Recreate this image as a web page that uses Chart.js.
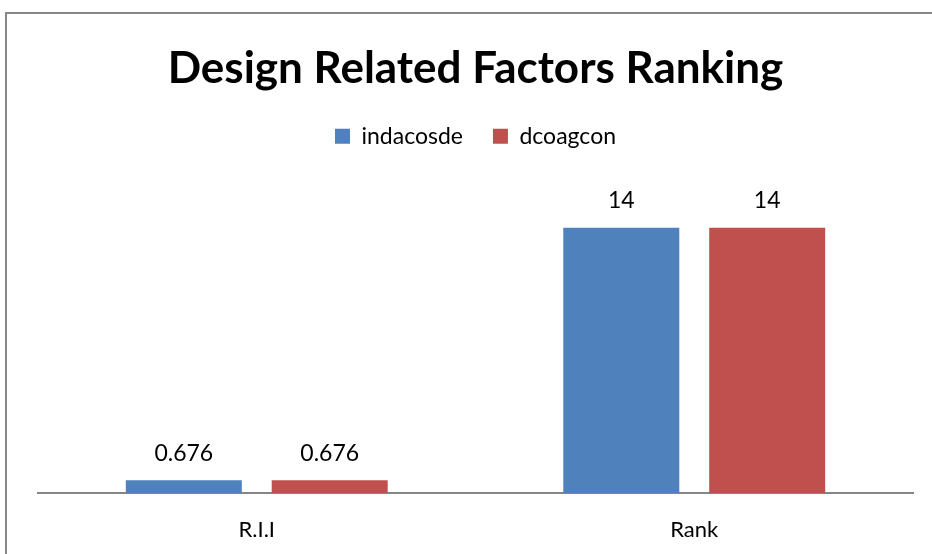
<!DOCTYPE html>
<html>
<head>
<meta charset="utf-8">
<title>Design Related Factors Ranking</title>
<script src="https://cdn.jsdelivr.net/npm/chart.js@4.4.0/dist/chart.umd.min.js"></script>
<style>
    html, body { margin: 0; padding: 0; background: #fff; overflow: hidden; }
    body { width: 932px; height: 554px; position: relative; }
    /* 外框，右侧和底部超出画面 */
    .frame { position: absolute; left: 5px; top: 12px; width: 1000px; height: 700px; border: 2px solid #868686; box-sizing: border-box; }
    #chartBox { position: absolute; left: 0; top: 0; width: 932px; height: 554px; }
</style>
</head>
<body>
<div class="frame"></div>
<div id="chartBox"><canvas id="rankingChart"></canvas></div>
<script>
// 图表数据
const categories = ['R.I.I', 'Rank'];
const seriesNames = ['indacosde', 'dcoagcon'];
const indacosdeValues = [0.676, 14];
const dcoagconValues = [0.676, 14];
const seriesColors = ['#4F81BD', '#C0504D'];
const yMax = 16;

const fontFamily = 'Lato, "Open Sans", sans-serif';

// 柱顶数值标签
const valueLabelPlugin = {
    id: 'valueLabels',
    afterDatasetsDraw(chart) {
        const ctx = chart.ctx;
        ctx.save();
        ctx.font = '23px ' + fontFamily;
        ctx.fillStyle = '#000';
        ctx.textAlign = 'center';
        ctx.textBaseline = 'middle';
        chart.data.datasets.forEach((ds, i) => {
            const meta = chart.getDatasetMeta(i);
            meta.data.forEach((bar, j) => {
                ctx.fillText(String(ds.data[j]), bar.x, bar.y - 27);
            });
        });
        ctx.restore();
    }
};

// 图例下方留白
const legendSpacePlugin = {
    id: 'legendSpace',
    beforeInit(chart) {
        const origFit = chart.legend.fit;
        chart.legend.fit = function () {
            origFit.bind(chart.legend)();
            this.height += 32;
        };
    }
};

const ctx = document.getElementById('rankingChart');
new Chart(ctx, {
    type: 'bar',
    data: {
        labels: categories,
        datasets: [{
            label: seriesNames[0],
            data: indacosdeValues,
            backgroundColor: seriesColors[0],
            categoryPercentage: 0.667,
            barPercentage: 0.795
        }, {
            label: seriesNames[1],
            data: dcoagconValues,
            backgroundColor: seriesColors[1],
            categoryPercentage: 0.667,
            barPercentage: 0.795
        }]
    },
    options: {
        responsive: true,
        maintainAspectRatio: false,
        animation: false,
        layout: {
            padding: { left: 38, right: 19, top: 0, bottom: 0 }
        },
        plugins: {
            title: {
                display: true,
                text: 'Design Related Factors Ranking',
                color: '#000',
                font: { family: fontFamily, size: 44, weight: 'bold' },
                padding: { top: 42, bottom: 0 }
            },
            legend: {
                display: true,
                labels: {
                    color: '#000',
                    font: { family: fontFamily, size: 23 },
                    boxWidth: 15,
                    boxHeight: 15,
                    padding: 30
                }
            },
            tooltip: { enabled: false }
        },
        scales: {
            x: {
                grid: { display: false },
                border: { display: true, color: '#868686', width: 2 },
                ticks: {
                    color: '#000',
                    font: { family: fontFamily, size: 22 },
                    padding: 16
                },
                afterFit(scale) {
                    scale.height = 61;
                }
            },
            y: {
                display: false,
                min: 0,
                max: yMax
            }
        }
    },
    plugins: [valueLabelPlugin, legendSpacePlugin]
});
</script>
</body>
</html>
